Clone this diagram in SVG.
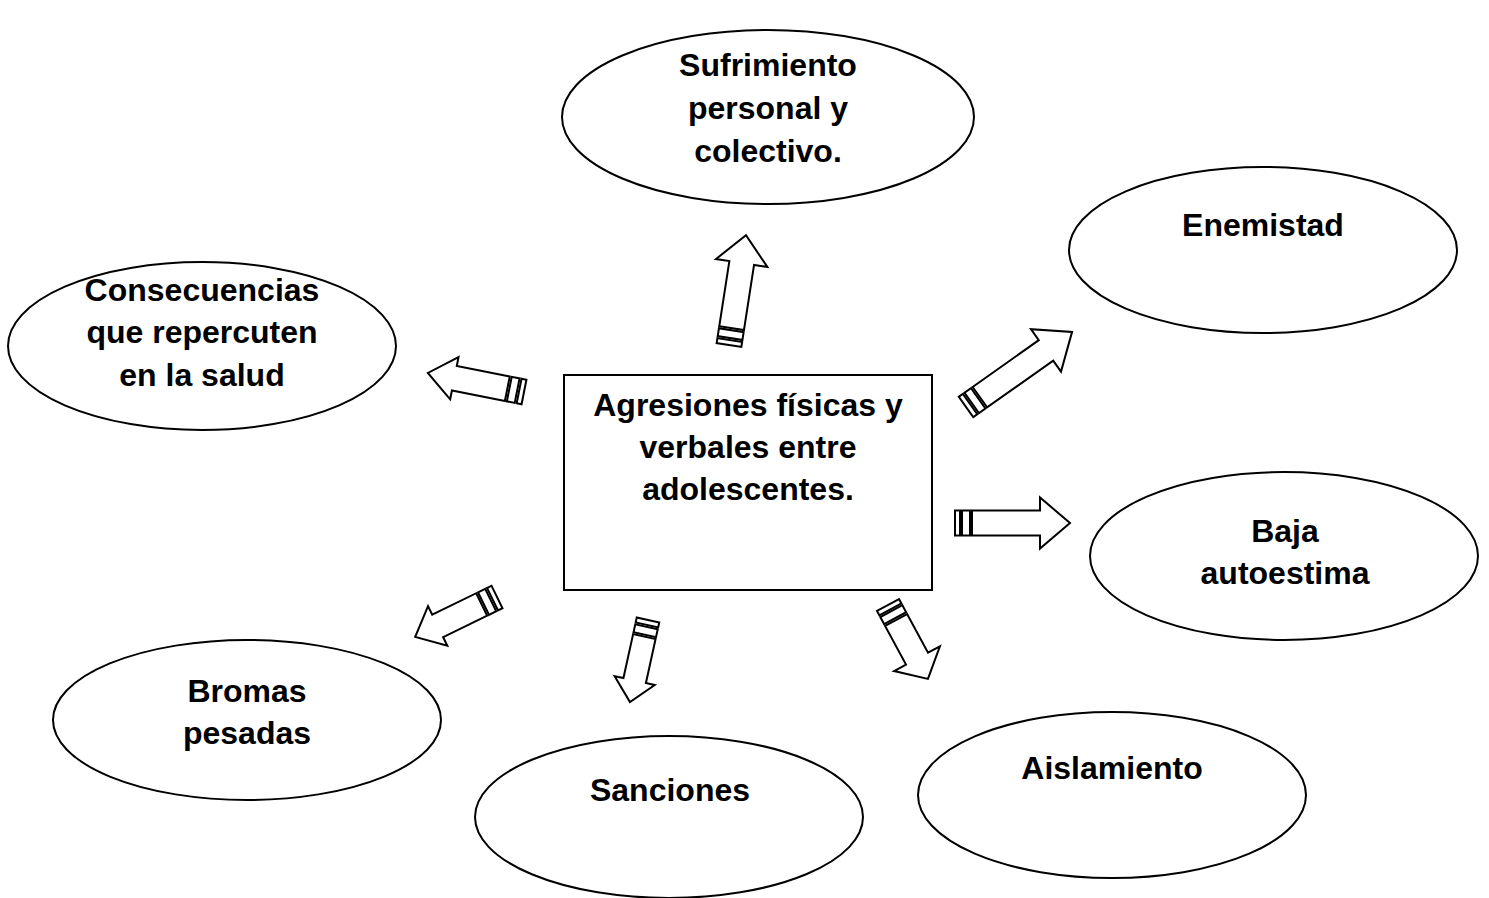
<svg xmlns="http://www.w3.org/2000/svg" width="1489" height="898" viewBox="0 0 1489 898">
<style>
.n{fill:#fff;stroke:#000;stroke-width:2}
.a{fill:#fff;stroke:#000;stroke-width:2;stroke-linejoin:miter}
.t{font-family:"Liberation Sans",Arial,sans-serif;font-weight:bold;font-size:32px;text-anchor:middle;fill:#000}
</style>
<defs>
<g id="st"><rect class="a" x="0" y="-12.5" width="5" height="25"/><rect class="a" x="7" y="-12.5" width="8" height="25"/></g>
</defs>
<rect width="1489" height="898" fill="#fff"/>
<g id="center"><rect class="n" x="564" y="375" width="368" height="215"/>
<text class="t" x="748" y="416">Agresiones físicas y</text>
<text class="t" x="748" y="458">verbales entre</text>
<text class="t" x="748" y="500">adolescentes.</text></g>
<g id="sufrimiento"><ellipse class="n" cx="768" cy="117" rx="206" ry="87"/>
<text class="t" x="768" y="76">Sufrimiento</text>
<text class="t" x="768" y="119">personal y</text>
<text class="t" x="768" y="162">colectivo.</text></g>
<g id="enemistad"><ellipse class="n" cx="1263" cy="250" rx="194" ry="83"/>
<text class="t" x="1263" y="236">Enemistad</text></g>
<g id="consecuencias"><ellipse class="n" cx="202" cy="346" rx="194" ry="84"/>
<text class="t" x="202" y="301">Consecuencias</text>
<text class="t" x="202" y="343">que repercuten</text>
<text class="t" x="202" y="386">en la salud</text></g>
<g id="baja"><ellipse class="n" cx="1284" cy="556" rx="194" ry="84"/>
<text class="t" x="1285" y="542">Baja</text>
<text class="t" x="1285" y="584">autoestima</text></g>
<g id="bromas"><ellipse class="n" cx="247" cy="720" rx="194" ry="80"/>
<text class="t" x="247" y="702">Bromas</text>
<text class="t" x="247" y="744">pesadas</text></g>
<g id="sanciones"><ellipse class="n" cx="669" cy="817" rx="194" ry="81"/>
<text class="t" x="670" y="801">Sanciones</text></g>
<g id="aislamiento"><ellipse class="n" cx="1112" cy="795" rx="194" ry="83"/>
<text class="t" x="1112" y="779">Aislamiento</text></g>
<g id="connectors">
<g transform="translate(729,345) rotate(-81.2)"><use href="#st"/><path class="a" d="M17,-12.5 H83 V-26 L111,0 L83,26 V12.5 H17 Z"/></g>
<g transform="translate(966,407) rotate(-35.3)"><use href="#st"/><path class="a" d="M17,-12.5 H98 V-26 L130,0 L98,26 V12.5 H17 Z"/></g>
<g transform="translate(955,523)"><use href="#st"/><path class="a" d="M17,-12.5 H85 V-25.5 L115,0 L85,25.5 V12.5 H17 Z"/></g>
<g transform="translate(888,605) rotate(61.6)"><use href="#st"/><path class="a" d="M17,-12.5 H61 V-26 L84,0 L61,26 V12.5 H17 Z"/></g>
<g transform="translate(648,620) rotate(102.4)"><rect class="a" x="0" y="-11.5" width="5" height="23"/><rect class="a" x="7" y="-11.5" width="8" height="23"/><path class="a" d="M17,-11.5 H62 V-20.5 L84,0 L62,20.5 V11.5 H17 Z"/></g>
<g transform="translate(497,597) rotate(154)"><use href="#st"/><path class="a" d="M17,-12.5 H66 V-22 L91,0 L66,22 V12.5 H17 Z"/></g>
<g transform="translate(524,392) rotate(191.2)"><use href="#st"/><path class="a" d="M17,-12.5 H71 V-21.5 L98,0 L71,21.5 V12.5 H17 Z"/></g>
</g>
</svg>
